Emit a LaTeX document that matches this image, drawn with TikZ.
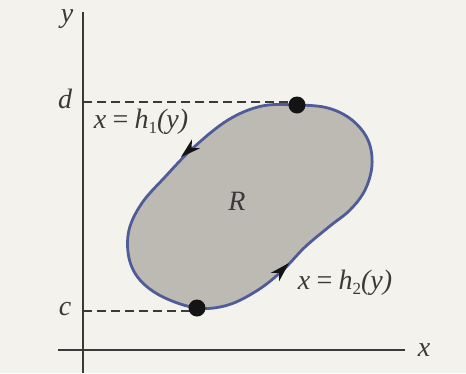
\documentclass[tikz,border=0pt]{standalone}
\usepackage{fontspec}
\setmainfont{Liberation Serif}
\definecolor{bgc}{HTML}{F4F2ED}
\definecolor{fillc}{HTML}{BDB9B3}
\definecolor{edgec}{HTML}{4F5C98}
\definecolor{axc}{HTML}{3A3A3A}
\tikzset{
  axis/.style={draw=axc, line width=1.5pt},
  guide/.style={draw=axc, line width=1.2pt, dash pattern=on 9pt off 5pt},
  lbl/.style={font=\fontsize{28}{30}\selectfont\itshape, text=axc, inner sep=0pt},
  dot/.style={circle, fill=black!92, minimum size=17pt, inner sep=0pt},
  headfill/.style={fill=black!92}
}
\begin{document}
\begin{tikzpicture}[x=1pt,y=-1pt]
\fill[bgc] (0,0) rectangle (466,373);
\useasboundingbox (0,0) rectangle (466,373);
% axes
\coordinate (yb) at (83,373);
\coordinate (yt) at (83,12);
\coordinate (xl) at (58,350);
\coordinate (xr) at (405,350);
\draw[axis] (yb) -- (yt);
\draw[axis] (xl) -- (xr);
\node[lbl] (ylab) at (67,19) {y};
\node[lbl] (xlab) at (424,350) {x};
% region
\filldraw[fill=fillc, draw=edgec, line width=2.8pt]
  plot[smooth cycle, tension=0.6] coordinates {
  (297,105) (262,106) (228,120) (193,148) (165,177) (142,203) (129,230)
  (129,258) (140,280) (163,297) (197,308) (228,305) (258,290) (283,270)
  (305,247) (330,226) (350,210) (365,190) (372,165) (368,140) (352,120) (328,108)};
% guides
\coordinate (dl) at (83,102);
\coordinate (cl) at (83,311);
\coordinate (dr) at (297,102);
\coordinate (cr) at (197,311);
\draw[guide] (dl) -- (dr);
\draw[guide] (cl) -- (cr);
% dots
\node[dot] (top) at (297,105) {};
\node[dot] (bot) at (197,308) {};
\node[lbl] (dlab) at (65,99) {d};
\node[lbl] (clab) at (65,309) {c};
\node[lbl] (rlab) at (237,201) {R};
% arrowheads on boundary
\fill[headfill] (181,157) -- (200,148.3) -- (191.5,147.8) -- (192,139.3) -- cycle;
\fill[headfill] (289,263) -- (279.1,281.3) -- (279.1,272.9) -- (270.7,272.9) -- cycle;
% labels
\node[lbl] (h1) at (141,122) {x\,=\,h{\upshape\fontsize{17}{18}\selectfont\raisebox{-5pt}{1}}(y)};
\node[lbl] (h2) at (345,283) {x\,=\,h{\upshape\fontsize{17}{18}\selectfont\raisebox{-5pt}{2}}(y)};
\end{tikzpicture}
\end{document}
